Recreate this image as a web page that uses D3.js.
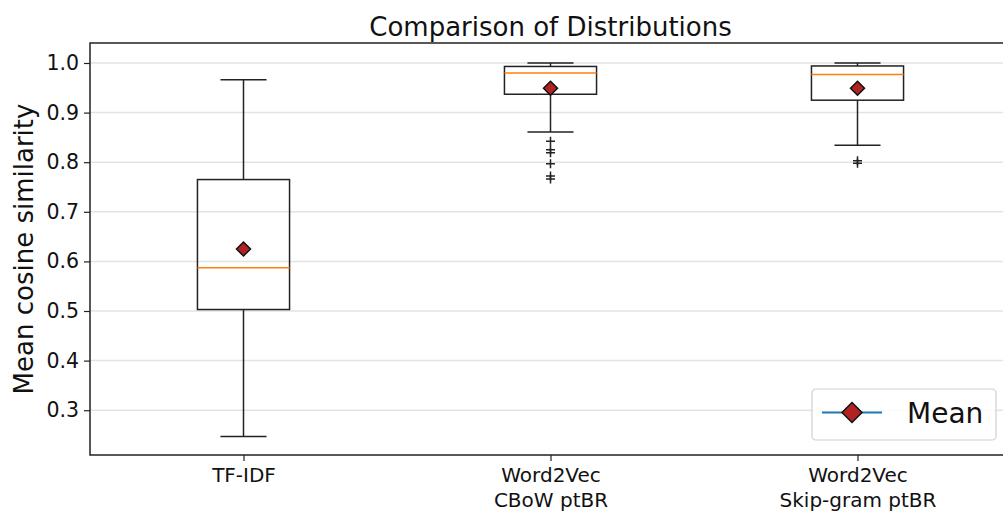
<!DOCTYPE html>
<html>
<head>
<meta charset="utf-8">
<script src="https://cdn.jsdelivr.net/npm/d3@7"></script>
<style>
  html, body { margin: 0; padding: 0; background: #fff; }
  svg { display: block; font-family: "DejaVu Sans", sans-serif; }
</style>
</head>
<body>
<div id="chart"></div>
<script>
// box statistics
const categories = [["TF-IDF"], ["Word2Vec", "CBoW ptBR"], ["Word2Vec", "Skip-gram ptBR"]];
const whiskerLow = [0.247, 0.861, 0.834];
const q1 = [0.503, 0.937, 0.925];
const medians = [0.587, 0.980, 0.977];
const q3 = [0.765, 0.993, 0.994];
const whiskerHigh = [0.966, 1.0, 1.0];
const means = [0.625, 0.949, 0.949];
const outliers = [[], [0.842, 0.825, 0.819, 0.797, 0.772, 0.766], [0.803, 0.798]];
const yTicks = [0.3, 0.4, 0.5, 0.6, 0.7, 0.8, 0.9, 1.0];

const W = 1003, H = 511;
const plot = { left: 90, right: 1011, top: 43, bottom: 455 };

const svg = d3.select("#chart").append("svg").attr("width", W).attr("height", H);

const x = d3.scaleLinear().domain([0.5, 3.5]).range([plot.left, plot.right]);
const y = d3.scaleLinear().domain([0.2097, 1.0403]).range([plot.bottom, plot.top]);

const boxW = x(1.3) - x(1);
const capW = x(1.15) - x(1);

// grid
svg.append("g").selectAll("line").data(yTicks).join("line")
    .attr("x1", plot.left).attr("x2", plot.right)
    .attr("y1", d => y(d)).attr("y2", d => y(d))
    .attr("stroke", "#e3e3e3").attr("stroke-width", 1.5);

// y axis
const yAxisG = svg.append("g").attr("transform", `translate(${plot.left},0)`)
    .call(d3.axisLeft(y).tickValues(yTicks).tickFormat(d3.format(".1f")).tickSize(6).tickPadding(5));
yAxisG.select(".domain").remove();
yAxisG.selectAll(".tick line").attr("stroke", "#222").attr("stroke-width", 1.2);
yAxisG.selectAll(".tick text").attr("font-size", 20.5).attr("fill", "#111").attr("font-family", "DejaVu Sans");

// x axis
const xAxisG = svg.append("g").attr("transform", `translate(0,${plot.bottom})`)
    .call(d3.axisBottom(x).tickValues([1, 2, 3]).tickFormat("").tickSize(6));
xAxisG.select(".domain").remove();
xAxisG.selectAll(".tick line").attr("stroke", "#222").attr("stroke-width", 1.2);
xAxisG.selectAll(".tick").each(function(d, i) {
    const t = d3.select(this).append("text")
        .attr("fill", "#111").attr("font-size", 20).attr("text-anchor", "middle")
        .attr("font-family", "DejaVu Sans");
    categories[i].forEach((line, k) => {
        t.append("tspan").attr("x", 0).attr("y", 27 + k * 25).text(line);
    });
});

// boxes
const boxes = svg.append("g").selectAll("g").data(categories).join("g");
boxes.append("line")
    .attr("x1", (d, i) => x(i + 1)).attr("x2", (d, i) => x(i + 1))
    .attr("y1", (d, i) => y(q3[i])).attr("y2", (d, i) => y(whiskerHigh[i]))
    .attr("stroke", "#222").attr("stroke-width", 1.5);
boxes.append("line")
    .attr("x1", (d, i) => x(i + 1)).attr("x2", (d, i) => x(i + 1))
    .attr("y1", (d, i) => y(q1[i])).attr("y2", (d, i) => y(whiskerLow[i]))
    .attr("stroke", "#222").attr("stroke-width", 1.5);
boxes.append("line")
    .attr("x1", (d, i) => x(i + 1) - capW / 2).attr("x2", (d, i) => x(i + 1) + capW / 2)
    .attr("y1", (d, i) => y(whiskerHigh[i])).attr("y2", (d, i) => y(whiskerHigh[i]))
    .attr("stroke", "#222").attr("stroke-width", 1.5);
boxes.append("line")
    .attr("x1", (d, i) => x(i + 1) - capW / 2).attr("x2", (d, i) => x(i + 1) + capW / 2)
    .attr("y1", (d, i) => y(whiskerLow[i])).attr("y2", (d, i) => y(whiskerLow[i]))
    .attr("stroke", "#222").attr("stroke-width", 1.5);
boxes.append("rect")
    .attr("x", (d, i) => x(i + 1) - boxW / 2).attr("width", boxW)
    .attr("y", (d, i) => y(q3[i])).attr("height", (d, i) => y(q1[i]) - y(q3[i]))
    .attr("fill", "none").attr("stroke", "#222").attr("stroke-width", 1.5);
boxes.append("line")
    .attr("x1", (d, i) => x(i + 1) - boxW / 2).attr("x2", (d, i) => x(i + 1) + boxW / 2)
    .attr("y1", (d, i) => y(medians[i])).attr("y2", (d, i) => y(medians[i]))
    .attr("stroke", "#ff7f0e").attr("stroke-width", 1.5);

// outliers
boxes.each(function(d, i) {
    d3.select(this).selectAll("path.flier").data(outliers[i]).join("path")
        .attr("class", "flier")
        .attr("d", v => {
            const cx = x(i + 1), cy = y(v), r = 4.5;
            return `M${cx - r},${cy}H${cx + r}M${cx},${cy - r}V${cy + r}`;
        })
        .attr("stroke", "#222").attr("stroke-width", 1.5);
});

// means
const diamond = (cx, cy, r) => `M${cx},${cy - r}L${cx + r},${cy}L${cx},${cy + r}L${cx - r},${cy}Z`;
boxes.append("path")
    .attr("d", (d, i) => diamond(x(i + 1), y(means[i]), 7))
    .attr("fill", "#b22222").attr("stroke", "#111").attr("stroke-width", 1.5);

// frame
svg.append("rect")
    .attr("x", plot.left).attr("y", plot.top)
    .attr("width", plot.right - plot.left).attr("height", plot.bottom - plot.top)
    .attr("fill", "none").attr("stroke", "#222").attr("stroke-width", 1.5);

// title and label
svg.append("text").attr("x", (plot.left + plot.right) / 2).attr("y", 36)
    .attr("text-anchor", "middle").attr("font-size", 26).attr("fill", "#111")
    .text("Comparison of Distributions");
svg.append("text").attr("transform", `translate(33,${(plot.top + plot.bottom) / 2}) rotate(-90)`)
    .attr("text-anchor", "middle").attr("font-size", 26).attr("fill", "#111")
    .text("Mean cosine similarity");

// legend
const legend = svg.append("g").attr("transform", "translate(812,389)");
legend.append("rect").attr("width", 184).attr("height", 51).attr("rx", 4)
    .attr("fill", "#fff").attr("fill-opacity", 0.85)
    .attr("stroke", "#d0d0d0").attr("stroke-width", 1.2);
legend.append("line").attr("x1", 10).attr("x2", 70).attr("y1", 23.5).attr("y2", 23.5)
    .attr("stroke", "#1f77b4").attr("stroke-width", 2);
legend.append("path").attr("d", diamond(40, 23.5, 10))
    .attr("fill", "#b22222").attr("stroke", "#111").attr("stroke-width", 1.5);
legend.append("text").attr("x", 95).attr("y", 34).attr("font-size", 28).attr("fill", "#111")
    .text("Mean");
</script>
</body>
</html>
